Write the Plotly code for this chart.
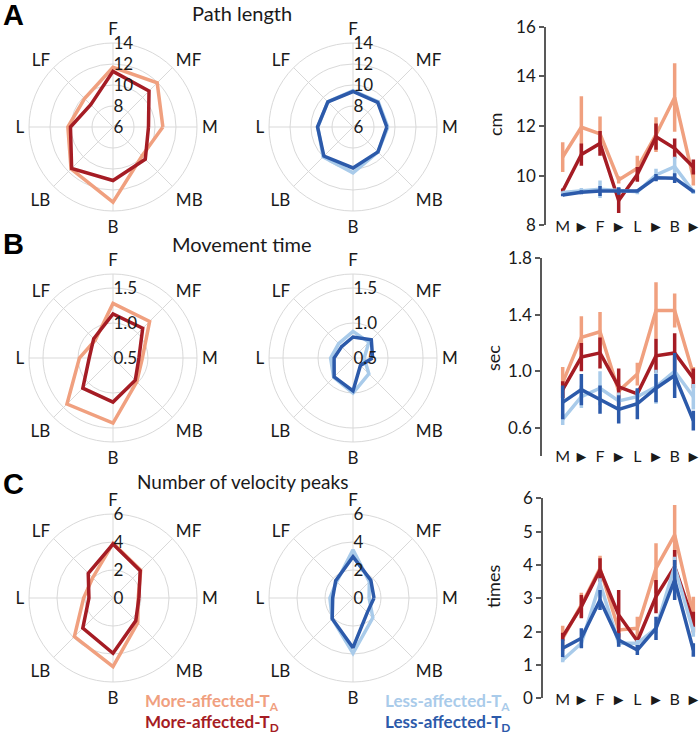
import plotly.graph_objects as go

W, H = 700, 737

# ---------------- data ----------------
directions = ['M', 'MF', 'F', 'LF', 'L', 'LB', 'B', 'MB']
x_ticktext = ['M', '►', 'F', '►', 'L', '►', 'B', '►']

# Path length (cm)
path_more_ta = [10.75, 11.95, 11.68, 9.83, 10.3, 11.65, 13.15, 9.9]
path_more_ta_err = [0.6, 1.25, 0.7, 0.15, 0.5, 0.7, 1.38, 0.3]
path_more_td = [9.38, 10.85, 11.3, 9.0, 10.05, 11.57, 11.1, 10.35]
path_more_td_err = [0.1, 0.45, 0.5, 0.5, 0.3, 0.53, 0.4, 0.3]
path_less_ta = [9.32, 9.4, 9.45, 9.4, 9.35, 10.03, 10.36, 9.36]
path_less_ta_err = [0.05, 0.1, 0.35, 0.1, 0.1, 0.25, 0.4, 0.1]
path_less_td = [9.22, 9.33, 9.38, 9.38, 9.38, 9.92, 9.9, 9.36]
path_less_td_err = [0.05, 0.08, 0.2, 0.15, 0.05, 0.15, 0.2, 0.05]

# Movement time (sec)
time_more_ta = [0.92, 1.24, 1.28, 0.86, 0.98, 1.43, 1.43, 0.98]
time_more_ta_err = [0.11, 0.15, 0.14, 0.05, 0.08, 0.2, 0.12, 0.05]
time_more_td = [0.87, 1.10, 1.13, 0.89, 0.84, 1.11, 1.13, 0.95]
time_more_td_err = [0.06, 0.1, 0.11, 0.13, 0.03, 0.12, 0.14, 0.07]
time_less_ta = [0.66, 0.82, 0.88, 0.79, 0.82, 0.89, 1.0, 0.82]
time_less_ta_err = [0.04, 0.08, 0.12, 0.06, 0.05, 0.12, 0.1, 0.09]
time_less_td = [0.78, 0.87, 0.80, 0.73, 0.77, 0.88, 0.97, 0.65]
time_less_td_err = [0.12, 0.11, 0.1, 0.1, 0.11, 0.1, 0.16, 0.07]

# Number of velocity peaks (times)
peaks_more_ta = [1.8, 2.8, 3.9, 2.05, 2.1, 3.9, 4.9, 2.5]
peaks_more_ta_err = [0.38, 0.37, 0.38, 0.2, 0.35, 0.75, 0.9, 0.55]
peaks_more_td = [1.85, 2.75, 3.85, 2.5, 1.72, 3.05, 3.95, 2.3]
peaks_more_td_err = [0.12, 0.35, 0.35, 0.75, 0.08, 0.5, 0.5, 0.3]
peaks_less_ta = [1.15, 1.65, 3.45, 1.65, 1.65, 2.1, 3.95, 2.0]
peaks_less_ta_err = [0.07, 0.1, 0.15, 0.1, 0.1, 0.15, 0.3, 0.15]
peaks_less_td = [1.5, 1.8, 2.95, 1.75, 1.45, 2.1, 3.55, 1.45]
peaks_less_td_err = [0.27, 0.3, 0.3, 0.2, 0.15, 0.35, 0.6, 0.2]

titles = ['Path length', 'Movement time', 'Number of velocity peaks']
panel_letters = ['A', 'B', 'C']
units = ['cm', 'sec', 'times']

polar_ranges = [[6, 14], [0.5, 1.7], [0, 6]]
polar_ticks = [[6, 8, 10, 12, 14], [0.5, 1.0, 1.5], [0, 2, 4, 6]]
polar_ticktext = [['6', '8', '10', '12', '14'], ['0.5', '1.0', '1.5'], ['0', '2', '4', '6']]

line_ranges = [[8, 16], [0.4, 1.8], [0, 6]]
line_ticks = [[8, 10, 12, 14, 16], [0.6, 1.0, 1.4, 1.8], [0, 1, 2, 3, 4, 5, 6]]
line_ticktext = [['8', '10', '12', '14', '16'], ['0.6', '1.0', '1.4', '1.8'],
                 ['0', '1', '2', '3', '4', '5', '6']]

legend_labels = ['More-affected-T<sub>A</sub>', 'More-affected-T<sub>D</sub>',
                 'Less-affected-T<sub>A</sub>', 'Less-affected-T<sub>D</sub>']

# ---------------- style ----------------
LIGHT_ORANGE = '#F0A07F'
DARK_RED = '#A51C24'
LIGHT_BLUE = '#A9CBEA'
DARK_BLUE = '#2C5AAA'
GRID = '#D9D9D9'
AXIS = '#595959'
TEXT = '#1a1a1a'
FONT = 'Lato, Open Sans, sans-serif'
colors = [LIGHT_ORANGE, DARK_RED, LIGHT_BLUE, DARK_BLUE]

rows = [
    (path_more_ta, path_more_ta_err, path_more_td, path_more_td_err,
     path_less_ta, path_less_ta_err, path_less_td, path_less_td_err),
    (time_more_ta, time_more_ta_err, time_more_td, time_more_td_err,
     time_less_ta, time_less_ta_err, time_less_td, time_less_td_err),
    (peaks_more_ta, peaks_more_ta_err, peaks_more_td, peaks_more_td_err,
     peaks_less_ta, peaks_less_ta_err, peaks_less_td, peaks_less_td_err),
]

# pixel geometry
row_cy = [127, 358, 598]
left_cx, right_cx = 113, 353
R = 84
line_y_px = [(26.7, 225.3), (258.3, 456.0), (498.3, 698.3)]   # (top, bottom) pixels
axis_left_px = [546, 542, 543]
label_pos_px = [215, 445, 688]
title_y_px = [13, 244, 481]
title_sizes = [20, 20, 19]
letter_y_px = [15, 244, 484]
unit_xy = [(495, 125), (493, 358), (493, 587)]

fig = go.Figure()
layout = dict(
    width=W, height=H, margin=dict(l=0, r=0, t=0, b=0, autoexpand=False),
    paper_bgcolor='white', plot_bgcolor='white', showlegend=False,
    font=dict(family=FONT, color=TEXT, size=16),
)
annotations = []


def polar_layout(cx, cy, i):
    return dict(
        domain=dict(x=[(cx - R) / W, (cx + R) / W], y=[1 - (cy + R) / H, 1 - (cy - R) / H]),
        bgcolor='white',
        angularaxis=dict(type='category', categoryorder='array', categoryarray=directions,
                         rotation=0, direction='counterclockwise',
                         showline=True, linecolor=GRID, linewidth=1,
                         showgrid=True, gridcolor=GRID, gridwidth=1,
                         ticks='outside', ticklen=1, tickcolor='rgba(0,0,0,0)',
                         tickfont=dict(size=17, color=TEXT, family=FONT)),
        radialaxis=dict(range=polar_ranges[i], tickmode='array', tickvals=polar_ticks[i],
                        ticktext=polar_ticktext[i], angle=90, tickangle=90,
                        showline=False, showgrid=True, gridcolor=GRID, gridwidth=1,
                        ticks='', side='clockwise',
                        tickfont=dict(size=17, color=TEXT, family=FONT)),
    )


for i, data in enumerate(rows):
    (m_ta, m_ta_e, m_td, m_td_e, l_ta, l_ta_e, l_td, l_td_e) = data
    pl = 'polar' if i == 0 else f'polar{2 * i + 1}'
    pr = f'polar{2 * i + 2}'
    layout[pl] = polar_layout(left_cx, row_cy[i], i)
    layout[pr] = polar_layout(right_cx, row_cy[i], i)
    theta_closed = directions + [directions[0]]
    for vals, col, sub in [(m_ta, LIGHT_ORANGE, pl), (m_td, DARK_RED, pl),
                           (l_ta, LIGHT_BLUE, pr), (l_td, DARK_BLUE, pr)]:
        fig.add_trace(go.Scatterpolar(r=list(vals) + [vals[0]], theta=theta_closed,
                                      mode='lines', line=dict(color=col, width=3.5),
                                      subplot=sub, hoverinfo='skip'))

    # line chart
    xa = 'xaxis' if i == 0 else f'xaxis{i + 1}'
    ya = 'yaxis' if i == 0 else f'yaxis{i + 1}'
    xr = 'x' if i == 0 else f'x{i + 1}'
    yr = 'y' if i == 0 else f'y{i + 1}'
    left = axis_left_px[i]
    idx0_px, step = 562.7, 18.66
    x_lo = (left - idx0_px) / step
    x_hi = (W - idx0_px) / step
    top, bot = line_y_px[i]
    layout[xa] = dict(domain=[left / W, 1], range=[x_lo, x_hi], type='category',
                      categoryorder='array', categoryarray=directions,
                      tickmode='array', tickvals=directions, ticktext=x_ticktext,
                      showline=False, ticks='', showgrid=False, zeroline=False,
                      anchor='free', position=1 - label_pos_px[i] / H,
                      tickfont=dict(size=16, color=TEXT, family=FONT))
    layout[ya] = dict(domain=[1 - bot / H, 1 - top / H], range=line_ranges[i], anchor=xr,
                      tickmode='array', tickvals=line_ticks[i], ticktext=line_ticktext[i],
                      showline=True, linecolor=AXIS, linewidth=1.5, ticks='outside',
                      ticklen=5, tickcolor=AXIS, tickwidth=1.5, showgrid=False, zeroline=False,
                      tickfont=dict(size=17, color=TEXT, family=FONT))
    for vals, err, col in [(m_ta, m_ta_e, LIGHT_ORANGE), (m_td, m_td_e, DARK_RED),
                           (l_ta, l_ta_e, LIGHT_BLUE), (l_td, l_td_e, DARK_BLUE)]:
        fig.add_trace(go.Scatter(x=directions, y=vals, mode='lines', xaxis=xr, yaxis=yr,
                                 line=dict(color=col, width=3.5), hoverinfo='skip',
                                 error_y=dict(type='data', array=err, visible=True,
                                              color=col, thickness=3.5, width=0)))

    # titles / letters / units
    annotations.append(dict(text=titles[i], x=242 / W, y=1 - title_y_px[i] / H, xref='paper',
                            yref='paper', showarrow=False, xanchor='center', yanchor='middle',
                            font=dict(size=title_sizes[i], color=TEXT, family=FONT)))
    annotations.append(dict(text=f'<b>{panel_letters[i]}</b>', x=1 / W,
                            y=1 - letter_y_px[i] / H, xref='paper', yref='paper',
                            showarrow=False, xanchor='left', yanchor='middle',
                            font=dict(size=29, color='black', family='Liberation Sans, Arial')))
    ux, uy = unit_xy[i]
    annotations.append(dict(text=units[i], x=ux / W, y=1 - uy / H, xref='paper', yref='paper',
                            showarrow=False, textangle=-90, xanchor='center', yanchor='middle',
                            font=dict(size=18, color=TEXT, family=FONT)))

# legend texts
leg_pos = [(143, 702), (143, 723), (383, 702), (383, 723)]
for lab, col, (lx, ly) in zip(legend_labels, colors, leg_pos):
    annotations.append(dict(text=f'<b>{lab}</b>', x=lx / W, y=1 - ly / H, xref='paper',
                            yref='paper', showarrow=False, xanchor='left', yanchor='middle',
                            font=dict(size=17, color=col, family=FONT)))

layout['annotations'] = annotations
fig.update_layout(**layout)
fig.write_html('out.html', config={'displayModeBar': False},
               post_script="document.body.style.margin='0px';"
                           "document.documentElement.style.overflow='hidden';"
                           "document.body.style.overflow='hidden';")
